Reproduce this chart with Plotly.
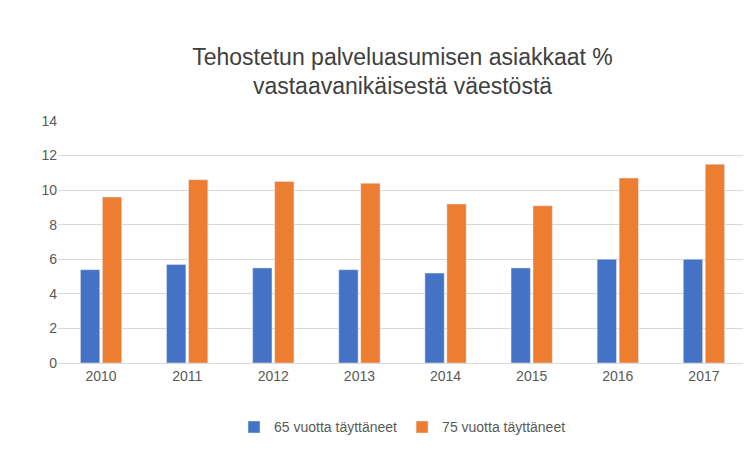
import plotly.graph_objects as go

years = ["2010", "2011", "2012", "2013", "2014", "2015", "2016", "2017"]
age65 = [5.4, 5.7, 5.5, 5.4, 5.2, 5.5, 6.0, 6.0]
age75 = [9.6, 10.6, 10.5, 10.4, 9.2, 9.1, 10.7, 11.5]

fig = go.Figure()
fig.add_trace(go.Bar(x=years, y=age65, name="65 vuotta täyttäneet", marker_color="#4472C4"))
fig.add_trace(go.Bar(x=years, y=age75, name="75 vuotta täyttäneet", marker_color="#ED7D31"))

fig.update_layout(
    width=751, height=452,
    font=dict(family="Liberation Sans, Arial", color="#595959", size=14),
    title=dict(text="Tehostetun palveluasumisen asiakkaat %<br>vastaavanikäisestä väestöstä",
               x=0.5, xanchor="center", xref="paper", y=0.875, yanchor="middle",
               font=dict(size=23, color="#404040")),
    barmode="group", bargap=0.49, bargroupgap=0.12,
    plot_bgcolor="white", paper_bgcolor="white",
    margin=dict(l=50, r=12, t=113, b=97),
    legend=dict(orientation="h", x=0.5, xanchor="center", y=-0.2, yanchor="top",
                font=dict(size=14)),
    xaxis=dict(showline=True, linecolor="#D9D9D9", ticks=""),
    yaxis=dict(range=[0, 14], dtick=2, gridcolor="#D9D9D9", zeroline=False,
               showline=False, ticks=""),
)
fig.write_html("out.html")
